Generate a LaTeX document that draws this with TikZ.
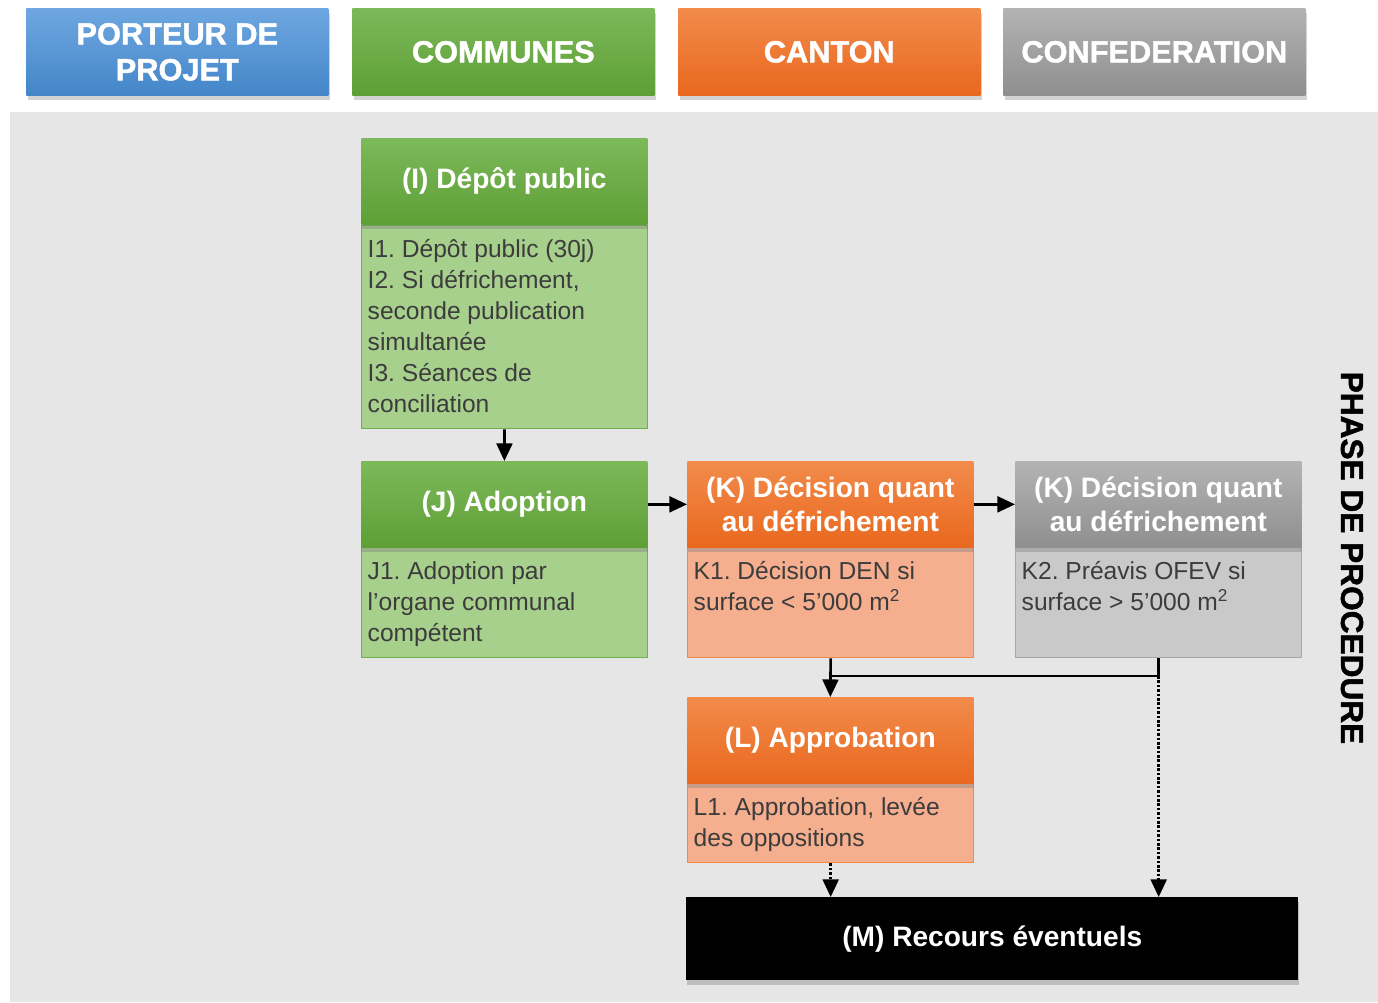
\documentclass[tikz,border=0pt]{standalone}
\usepackage{fontspec}
\setmainfont{Liberation Sans}
\newfontfamily\grasfont[FakeBold=1.5]{Liberation Sans Bold}
\usepackage{tikz}
\usetikzlibrary{arrows.meta,shadows}

\definecolor{bleuH}{HTML}{6EA7E0}
\definecolor{bleuB}{HTML}{4486C9}
\definecolor{vertH}{HTML}{7CB95A}
\definecolor{vertB}{HTML}{5E9F36}
\definecolor{vertC}{HTML}{A8D08D}
\definecolor{vertT}{HTML}{6FB04A}
\definecolor{orangeH}{HTML}{F28B4B}
\definecolor{orangeB}{HTML}{E9681E}
\definecolor{orangeC}{HTML}{F5AE8E}
\definecolor{orangeT}{HTML}{F08A4B}
\definecolor{grisH}{HTML}{B3B3B3}
\definecolor{grisB}{HTML}{8F8F8F}
\definecolor{grisC}{HTML}{C9C9C9}
\definecolor{grisT}{HTML}{A8A8A8}
\definecolor{fond}{HTML}{E6E6E6}
\definecolor{texte}{HTML}{3C3C3C}

\newcommand{\blocktexte}[2]{\parbox[t][#1][t]{5.48cm}{\raggedright\frenchspacing #2}}

\begin{document}
\begin{tikzpicture}[x=0.02cm, y=-0.02cm,
  entete/.style={anchor=north west, minimum width=6.04cm, minimum height=1.74cm,
    top color=#1H, bottom color=#1B, text=white, align=center,
    font=\grasfont\fontsize{17.5}{20.4}\selectfont,
    drop shadow={shadow xshift=1pt, shadow yshift=-2.5pt, opacity=0.35}},
  titre/.style={anchor=north west, minimum width=5.72cm, minimum height=1.72cm,
    top color=#1H, bottom color=#1B, text=white, align=center,
    font=\bfseries\fontsize{16}{19.8}\selectfont,
    drop shadow={shadow xshift=0.5pt, shadow yshift=-2.5pt, opacity=0.4}},
  corps/.style={anchor=north west, minimum width=5.72cm, inner xsep=0.12cm,
    inner ysep=0.28cm, fill=#1C, draw=#1T, line width=0.8pt, text=texte,
    font=\fontsize{14}{17.6}\selectfont},
  fleche/.style={line width=1.5pt, -{Triangle[length=10pt,width=9pt]}},
  trait/.style={line width=1.5pt}]
  \useasboundingbox (0,0) rectangle (1378,1002);
  % fond
  \fill[fond] (10,112) rectangle (1378,1002);
  % colonnes
  \node[entete=bleu] (porteur) at (26,8) {PORTEUR DE\\PROJET};
  \node[entete=vert] (communes) at (352,8) {COMMUNES};
  \node[entete=orange] (canton) at (678,8) {CANTON};
  \node[entete=gris] (confed) at (1003,8) {CONFEDERATION};
  % blocs
  \node[corps=vert] (ibody) at (361,225)
    {\blocktexte{3.5cm}{I1. Dépôt public (30j)\\I2. Si défrichement,\\seconde publication\\simultanée\\I3. Séances de\\conciliation}};
  \node[titre=vert] (ititre) at (361,138) {(I) Dépôt public};
  \node[corps=vert] (jbody) at (361,547)
    {\blocktexte{1.64cm}{J1. Adoption par\\l'organe communal\\compétent}};
  \node[titre=vert] (jtitre) at (361,461) {(J) Adoption};
  \node[corps=orange] (k1body) at (687,547)
    {\blocktexte{1.64cm}{K1. Décision DEN si\\surface < 5'000 m\textsuperscript{2}}};
  \node[titre=orange] (k1titre) at (687,461) {(K) Décision quant\\au défrichement};
  \node[corps=gris] (k2body) at (1015,547)
    {\blocktexte{1.64cm}{K2. Préavis OFEV si\\surface > 5'000 m\textsuperscript{2}}};
  \node[titre=gris] (k2titre) at (1015,461) {(K) Décision quant\\au défrichement};
  \node[corps=orange] (lbody) at (687,783)
    {\blocktexte{1.02cm}{L1. Approbation, levée\\des oppositions}};
  \node[titre=orange] (ltitre) at (687,697) {(L) Approbation};
  \node[anchor=north west, minimum width=12.24cm, minimum height=1.66cm,
    fill=black, text=white, font=\bfseries\fontsize{16}{19.8}\selectfont,
    drop shadow={shadow xshift=0.5pt, shadow yshift=-2.5pt, opacity=0.4}]
    (recours) at (686,897) {(M) Recours éventuels};
  % phase
  \node[rotate=-90, font=\grasfont\fontsize{18}{20}\selectfont] (phase) at (1352,558) {PHASE DE PROCEDURE};
  % liaisons
  \coordinate (jonction) at (830,676);
  \coordinate (coin) at (k2body.south |- jonction);
  \draw[fleche] (ibody) -- (jtitre);
  \draw[fleche] (jtitre) -- (k1titre);
  \draw[fleche] (k1titre) -- (k2titre);
  \draw[trait] (k2body.south) -- (coin) -- (k1body.south |- jonction);
  \draw[fleche] (k1body.south) -- (ltitre.north);
  \draw[fleche, densely dotted] (coin) -- (coin |- recours.north);
  \draw[fleche, densely dotted] (lbody.south) -- (lbody.south |- recours.north);
\end{tikzpicture}
\end{document}
